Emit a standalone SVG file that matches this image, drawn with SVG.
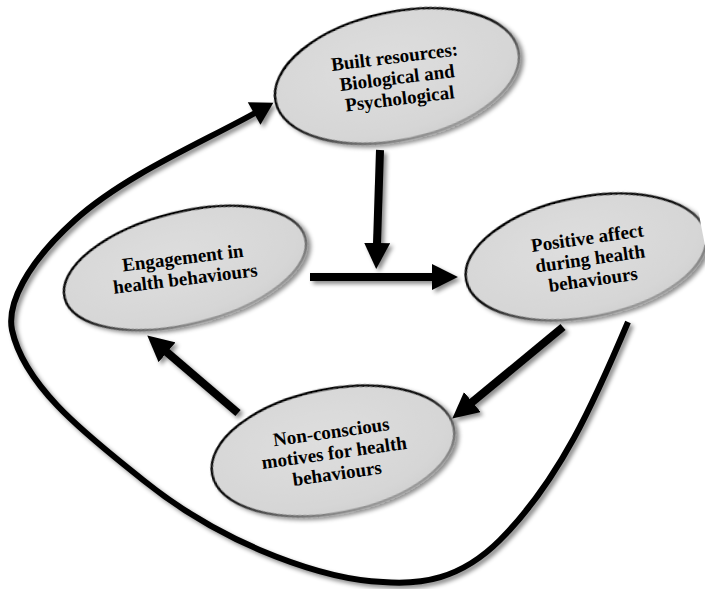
<svg xmlns="http://www.w3.org/2000/svg" width="705" height="589" viewBox="0 0 705 589">
<defs>
  <filter id="sh" filterUnits="userSpaceOnUse" x="0" y="0" width="705" height="589">
    <feDropShadow dx="3" dy="3" stdDeviation="2.2" flood-color="#000" flood-opacity="0.45"/>
  </filter>
  <radialGradient id="fill" cx="0.45" cy="0.4" r="0.65">
    <stop offset="0" stop-color="#dedede"/>
    <stop offset="0.8" stop-color="#d6d6d6"/>
    <stop offset="1" stop-color="#cfcfcf"/>
  </radialGradient>
  <linearGradient id="edge" x1="0.1" y1="0" x2="0.7" y2="1">
    <stop offset="0" stop-color="#000"/>
    <stop offset="0.5" stop-color="#111"/>
    <stop offset="0.75" stop-color="#666"/>
    <stop offset="1" stop-color="#a0a0a0"/>
  </linearGradient>
  <marker id="head" markerUnits="userSpaceOnUse" markerWidth="26" markerHeight="26" viewBox="0 0 24 24" refX="1" refY="12" orient="auto">
    <path d="M0,0 L24,12 L0,24 z" fill="#000"/>
  </marker>
  <marker id="headLoop" markerUnits="userSpaceOnUse" markerWidth="24" markerHeight="26" viewBox="0 0 22 26" refX="1" refY="13" orient="auto">
    <path d="M0,0 L22,13 L0,26 z" fill="#000"/>
  </marker>
  <style>
    .node ellipse { fill: url(#fill); stroke: url(#edge); stroke-width: 2.6; }
    .node text { font-family: "Liberation Serif", "Times New Roman", serif; font-weight: bold; font-size: 19px; fill: #000; text-anchor: middle; }
    .arrow { fill: none; stroke: #000; stroke-width: 8; stroke-linecap: butt; marker-end: url(#head); }
    .loop { fill: none; stroke: #000; stroke-width: 6; stroke-linecap: butt; marker-end: url(#headLoop); }
  </style>
</defs>
<rect width="705" height="589" fill="#fff"/>

<g id="connectors" filter="url(#sh)">
  <path class="loop" d="M628,322 C595,400 560,480 500,540 C460,580 420,585 383,582 C330,580 230,550 143,480 C95,441 25,390 12,330 C7,305 25,265 75,220 C125,175 203,142 255,113"/>
  <line class="arrow" x1="380" y1="150" x2="377" y2="244"/>
  <line class="arrow" x1="310" y1="277" x2="433" y2="277"/>
  <line class="arrow" x1="563" y1="327" x2="471.5" y2="402.7"/>
  <line class="arrow" x1="238" y1="413" x2="166.2" y2="351.6"/>
</g>

<g id="node-built-resources" class="node">
  <ellipse cx="397" cy="76" rx="124" ry="64" transform="rotate(-12 397 76)" filter="url(#sh)"/>
  <g transform="rotate(-7 397 77)">
    <text x="397" y="63">Built resources:</text>
    <text x="397" y="84">Biological and</text>
    <text x="397" y="105">Psychological</text>
  </g>
</g>

<g id="node-engagement" class="node">
  <ellipse cx="185" cy="268" rx="124" ry="56" transform="rotate(-14 185 268)" filter="url(#sh)"/>
  <g transform="rotate(-7 184 268)">
    <text x="184" y="264">Engagement in</text>
    <text x="184" y="285">health behaviours</text>
  </g>
</g>

<g id="node-positive-affect" class="node">
  <ellipse cx="586" cy="257" rx="122" ry="60" transform="rotate(-11 586 257)" filter="url(#sh)"/>
  <g transform="rotate(-8 590 258)">
    <text x="590" y="244">Positive affect</text>
    <text x="590" y="265">during health</text>
    <text x="590" y="286">behaviours</text>
  </g>
</g>

<g id="node-non-conscious" class="node">
  <ellipse cx="333" cy="451" rx="123" ry="62" transform="rotate(-11 333 451)" filter="url(#sh)"/>
  <g transform="rotate(-8 334 452)">
    <text x="334" y="438">Non-conscious</text>
    <text x="334" y="459">motives for health</text>
    <text x="334" y="480">behaviours</text>
  </g>
</g>
</svg>
